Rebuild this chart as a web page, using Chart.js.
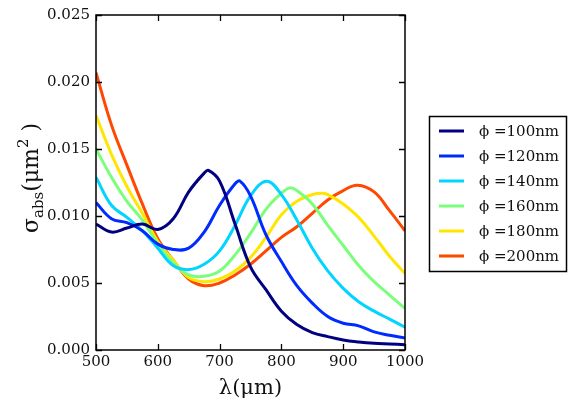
<!DOCTYPE html>
<html>
<head>
<meta charset="utf-8">
<script src="https://cdn.jsdelivr.net/npm/chart.js@4/dist/chart.umd.min.js"></script>
<style>
html,body{margin:0;padding:0;background:#fff;}
#c{display:block;}
</style>
</head>
<body>
<canvas id="c" width="571" height="406"></canvas>
<script>
// ---- data ----
const wavelengths = [500,525,550,575,600,625,650,675,700,725,750,775,800,825,850,875,900,925,950,975,1000];
const seriesLabels = ['ϕ =100nm','ϕ =120nm','ϕ =140nm','ϕ =160nm','ϕ =180nm','ϕ =200nm'];
const seriesColors = ['#000080','#002BFF','#00D4FF','#7BFF7B','#FFE600','#FF4800'];
const d100 = [0.0094,0.0088,0.0091,0.0094,0.0090,0.0098,0.0118,0.0132,0.0126,0.0094,0.0062,0.0045,0.0029,0.0019,0.0013,0.0010,0.00075,0.0006,0.0005,0.00045,0.0004];
const d120 = [0.0110,0.0098,0.0095,0.0089,0.0079,0.0075,0.0076,0.0088,0.0108,0.0124,0.0115,0.0086,0.0066,0.0048,0.0035,0.0025,0.0020,0.0018,0.00135,0.0011,0.0009];
const d140 = [0.0129,0.0108,0.0099,0.0089,0.0076,0.0063,0.0060,0.0064,0.0074,0.0093,0.0115,0.0126,0.0116,0.0097,0.0076,0.0059,0.0046,0.0036,0.0029,0.0023,0.0017];
const d160 = [0.0150,0.0129,0.0111,0.0097,0.0079,0.0065,0.0056,0.0055,0.0059,0.0071,0.0087,0.0105,0.0117,0.0119,0.0109,0.0093,0.0078,0.0063,0.0051,0.0041,0.0031];
const d180 = [0.0175,0.0146,0.0122,0.0102,0.0081,0.0067,0.0054,0.0051,0.0053,0.0059,0.0069,0.0084,0.0101,0.0111,0.0116,0.0116,0.0109,0.0099,0.0085,0.0070,0.0057];
const d200 = [0.0207,0.0168,0.0138,0.0109,0.0083,0.0067,0.0053,0.0048,0.0050,0.0056,0.0064,0.0074,0.0084,0.0092,0.0102,0.0112,0.0119,0.0123,0.0118,0.0104,0.0089];
const peakX = [682,733,776,814,865,923];
const peakY = [0.0134,0.0126,0.0126,0.0121,0.0117,0.0123];
const xTicks = [500,600,700,800,900,1000];
const yTicks = [0.000,0.005,0.010,0.015,0.020,0.025];

const allSeries = [d100,d120,d140,d160,d180,d200];
function buildPoints(vals, px, py){
  const pts = wavelengths.map((x,i)=>({x:x,y:vals[i]})).filter(p=>Math.abs(p.x-px)>3);
  pts.push({x:px,y:py});
  pts.sort((a,b)=>a.x-b.x);
  return pts;
}
const datasets = allSeries.map((vals,i)=>({
  label: seriesLabels[i],
  data: buildPoints(vals, peakX[i], peakY[i]),
  borderColor: seriesColors[i],
  backgroundColor: seriesColors[i],
  borderWidth: 3,
  pointRadius: 0,
  fill: false,
  tension: 0.4
}));

const SERIF = "'DejaVu Serif', 'Liberation Serif', serif";

const decor = {
  id: 'decor',
  afterDraw(chart){
    const ctx = chart.ctx;
    const a = chart.chartArea;
    const xs = chart.scales.x, ys = chart.scales.y;
    ctx.save();
    // frame
    ctx.strokeStyle = '#000';
    ctx.lineWidth = 1.5;
    ctx.strokeRect(a.left, a.top, a.right-a.left, a.bottom-a.top);
    // inward ticks on all sides
    ctx.lineWidth = 1.3;
    const tl = 6;
    ctx.beginPath();
    xTicks.forEach(v=>{
      const p = Math.round(xs.getPixelForValue(v))+0.5;
      ctx.moveTo(p, a.bottom); ctx.lineTo(p, a.bottom-tl);
      ctx.moveTo(p, a.top); ctx.lineTo(p, a.top+tl);
    });
    yTicks.forEach(v=>{
      const p = Math.round(ys.getPixelForValue(v))+0.5;
      ctx.moveTo(a.left, p); ctx.lineTo(a.left+tl, p);
      ctx.moveTo(a.right, p); ctx.lineTo(a.right-tl, p);
    });
    ctx.stroke();

    // x title
    ctx.fillStyle = '#111';
    ctx.font = '21px ' + SERIF;
    ctx.textAlign = 'center';
    ctx.textBaseline = 'alphabetic';
    ctx.fillText('λ(μm)', (a.left+a.right)/2, 394);

    // y title with subscript / superscript
    const parts = [
      {t:'σ', size:22, dy:0},
      {t:'abs', size:15, dy:5},
      {t:'(μm', size:22, dy:0},
      {t:'2', size:15, dy:-10},
      {t:' )', size:22, dy:0}
    ];
    let total = 0;
    parts.forEach(p=>{ ctx.font = p.size+'px '+SERIF; p.w = ctx.measureText(p.t).width; total += p.w; });
    ctx.translate(38, 178);
    ctx.rotate(-Math.PI/2);
    ctx.textAlign = 'left';
    let x0 = -total/2;
    parts.forEach(p=>{
      ctx.font = p.size+'px '+SERIF;
      ctx.fillText(p.t, x0, p.dy);
      x0 += p.w;
    });
    ctx.setTransform(1,0,0,1,0,0);

    // legend
    const lx = 429.5, ly = 116.5, lw = 137, lh = 155;
    ctx.fillStyle = '#fff';
    ctx.fillRect(lx, ly, lw, lh);
    ctx.strokeStyle = '#000';
    ctx.lineWidth = 1.5;
    ctx.strokeRect(lx, ly, lw, lh);
    ctx.font = '15px ' + SERIF;
    ctx.textAlign = 'left';
    ctx.textBaseline = 'middle';
    chart.data.datasets.forEach((ds,i)=>{
      const yy = 131 + 25*i;
      ctx.strokeStyle = ds.borderColor;
      ctx.lineWidth = 3;
      ctx.beginPath();
      ctx.moveTo(439, yy); ctx.lineTo(464, yy);
      ctx.stroke();
      ctx.fillStyle = '#111';
      ctx.fillText(ds.label, 479, yy+1);
    });
    ctx.restore();
  }
};

new Chart(document.getElementById('c'), {
  type: 'line',
  data: { datasets },
  options: {
    responsive: false,
    animation: false,
    layout: { padding: { left: 0, right: 166, top: 13, bottom: 0 } },
    plugins: { legend: { display: false }, tooltip: { enabled: false } },
    scales: {
      x: {
        type: 'linear', min: 500, max: 1000,
        afterBuildTicks: s => { s.ticks = xTicks.map(v=>({value:v})); },
        afterFit: s => { s.height = 56; },
        grid: { display: false, drawTicks: false },
        border: { display: false },
        ticks: { font: { family: SERIF, size: 15 }, color: '#111', padding: 3, maxRotation: 0, autoSkip: false,
          callback: v => String(v) }
      },
      y: {
        type: 'linear', min: 0, max: 0.025,
        afterBuildTicks: s => { s.ticks = yTicks.map(v=>({value:v})); },
        afterFit: s => { s.width = 96; },
        grid: { display: false, drawTicks: false },
        border: { display: false },
        ticks: { font: { family: SERIF, size: 15 }, color: '#111', padding: 6,
          callback: v => Number(v).toFixed(3) }
      }
    }
  },
  plugins: [decor]
});
</script>
</body>
</html>
